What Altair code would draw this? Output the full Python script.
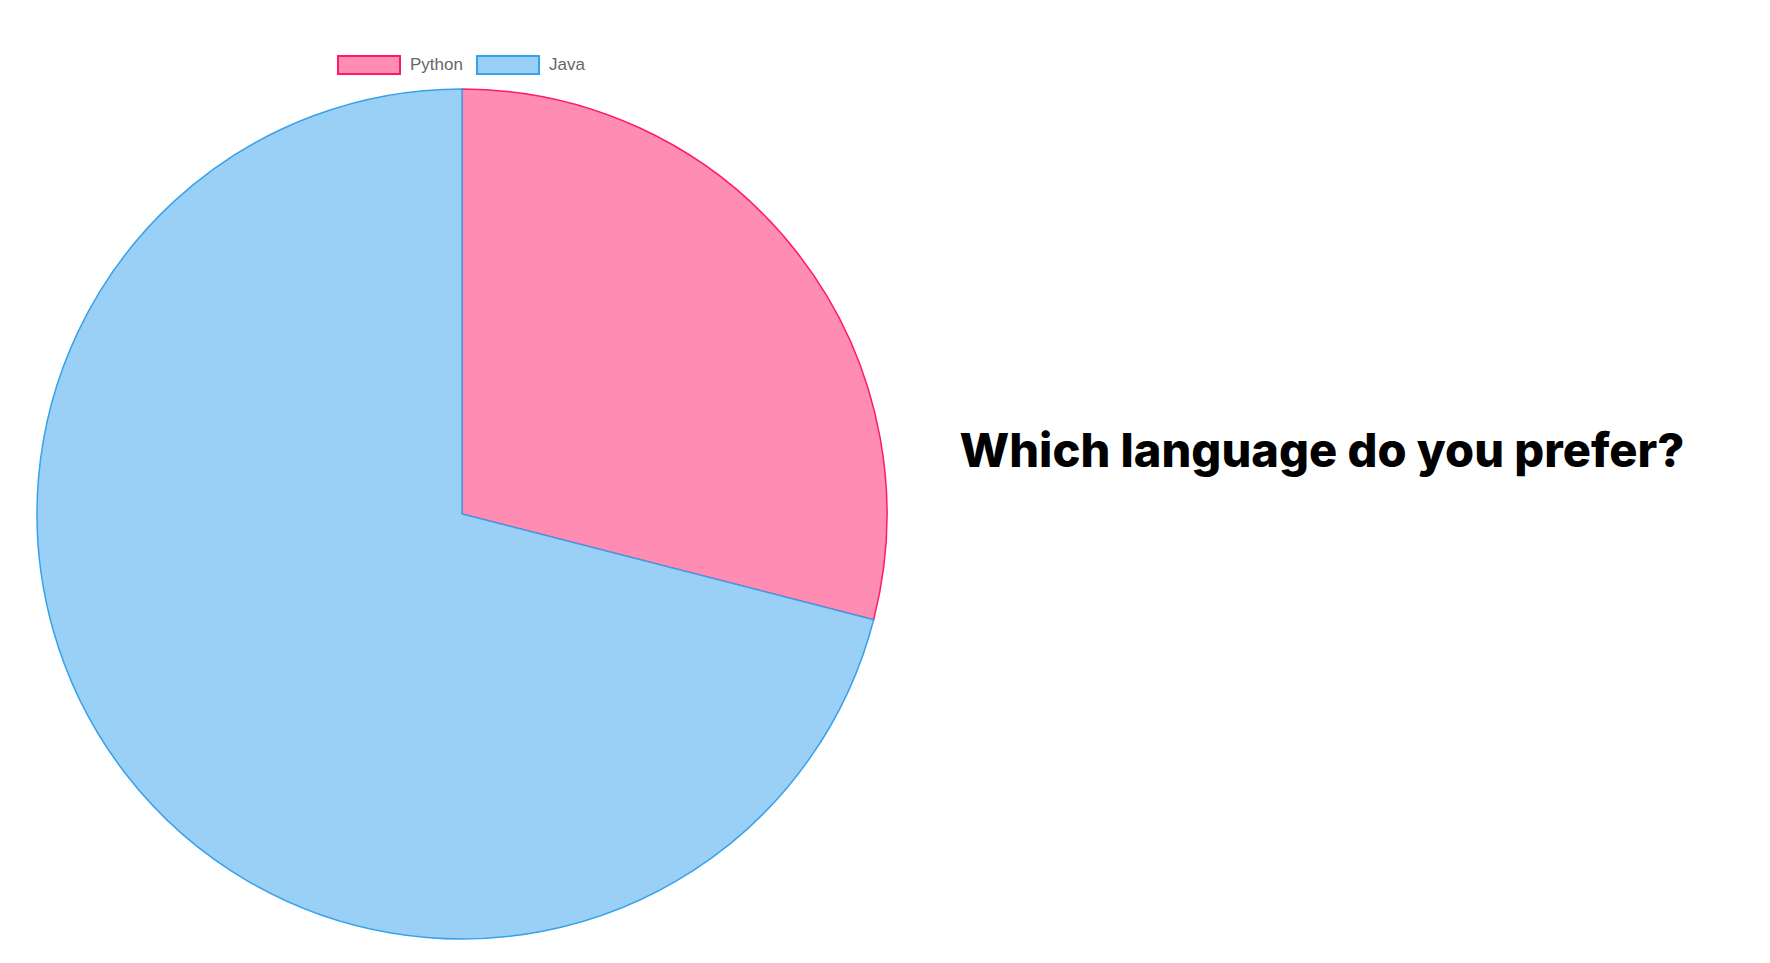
import altair as alt
import pandas as pd

languages = ["Python", "Java"]
votes = [29, 71]
fills = ["#FF8CB3", "#9AD0F5"]
strokes = ["#FF1A68", "#36A2EB"]
title_text = ["Which language do you prefer?"]

df = pd.DataFrame({"language": languages, "votes": votes, "idx": list(range(len(languages)))})
tdf = pd.DataFrame({"t": title_text})

rect_path = "M-1,-0.29H1V0.29H-1Z"


def make_legend():
    return alt.Legend(title=None, orient="none", direction="horizontal",
                      legendX=329, legendY=25,
                      symbolType=rect_path, symbolSize=3844,
                      symbolStrokeWidth=2, symbolOpacity=1,
                      labelFont="Liberation Sans", labelFontSize=17,
                      labelColor="#666666", labelOffset=9,
                      columnPadding=10)


pie = alt.Chart(df).mark_arc(outerRadius=425, strokeWidth=1.5).encode(
    theta=alt.Theta("votes:Q", stack=True),
    order=alt.Order("idx:Q"),
    fill=alt.Fill("language:N", scale=alt.Scale(domain=languages, range=fills),
                  legend=make_legend()),
    stroke=alt.Stroke("language:N", scale=alt.Scale(domain=languages, range=strokes),
                      legend=make_legend()),
    x=alt.value(454),
    y=alt.value(506),
)

title = alt.Chart(tdf).mark_text(
    font="Inter", fontSize=47, fontWeight=800, color="#000000",
    align="center", baseline="alphabetic"
).encode(
    text="t:N",
    x=alt.value(1314),
    y=alt.value(459),
)

chart = alt.layer(pie, title).properties(
    width=1754, height=947, padding=0, autosize=alt.AutoSizeParams(type="none")
).configure_view(stroke=None)

chart.save("out.html", embed_options={"renderer": "svg", "actions": False})
